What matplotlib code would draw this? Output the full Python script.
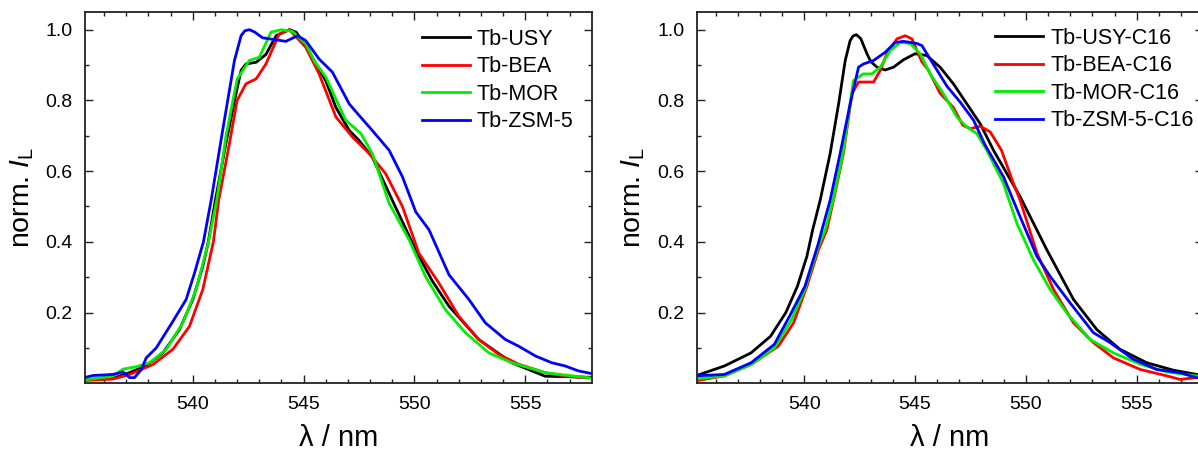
import numpy as np
import matplotlib
matplotlib.use("Agg")
import matplotlib.pyplot as plt

plt.rcParams['font.family'] = ['Liberation Sans', 'DejaVu Sans']
plt.rcParams['mathtext.fontset'] = 'custom'
plt.rcParams['mathtext.rm'] = 'Liberation Sans'
plt.rcParams['mathtext.it'] = 'Liberation Sans:italic'

# ---- left panel: Tb-zeolites (wavelength nm, normalised intensity) ----
usy_x = [535.1, 536.4, 537.15, 537.9, 538.65, 539.4, 540.0, 540.45, 540.7, 541.02, 541.5, 541.95, 542.18,
         542.4, 542.86, 543.3, 543.76, 544.36, 544.66, 545.1, 545.56, 546.0, 546.46, 547.06, 547.5, 548.1,
         549.0, 550.06, 550.8, 551.56, 552.9, 554.4, 555.9, 557.95]
usy_y = [0.01, 0.014, 0.03, 0.05, 0.086, 0.152, 0.237, 0.33, 0.40, 0.518, 0.68, 0.819, 0.885,
         0.903, 0.908, 0.93, 0.983, 1.0, 0.993, 0.955, 0.903, 0.856, 0.78, 0.715, 0.687, 0.64,
         0.518, 0.377, 0.29, 0.218, 0.124, 0.058, 0.02, 0.017]

bea_x = [535.1, 536.4, 537.15, 538.2, 539.1, 539.85, 540.45, 540.93, 541.17, 541.6, 542.0, 542.4, 542.86,
         543.3, 543.9, 544.36, 545.1, 545.7, 546.46, 547.2, 547.96, 548.7, 549.46, 550.2, 551.1, 552.0,
         552.9, 553.8, 554.7, 555.9, 556.8, 557.95]
bea_y = [0.008, 0.012, 0.025, 0.053, 0.096, 0.161, 0.265, 0.40, 0.518, 0.66, 0.80, 0.847, 0.861,
         0.903, 0.988, 1.0, 0.95, 0.875, 0.753, 0.697, 0.65, 0.593, 0.5, 0.368, 0.284, 0.19,
         0.124, 0.082, 0.054, 0.03, 0.02, 0.015]

mor_x = [535.1, 536.4, 536.85, 537.45, 538.05, 538.8, 539.55, 540.15, 540.71, 541.08, 541.5, 542.0, 542.55,
         543.0, 543.53, 544.0, 544.5, 545.1, 545.5, 546.0, 546.9, 547.59, 548.1, 548.86, 549.76, 550.5,
         551.4, 552.3, 553.36, 554.4, 555.9, 557.95]
mor_y = [0.01, 0.02, 0.04, 0.047, 0.058, 0.096, 0.171, 0.265, 0.40, 0.518, 0.70, 0.86, 0.913,
         0.922, 0.993, 1.0, 0.995, 0.96, 0.91, 0.866, 0.744, 0.706, 0.65, 0.509, 0.406, 0.302,
         0.208, 0.143, 0.086, 0.058, 0.03, 0.015]

zsm_x = [535.1, 535.5, 536.4, 536.85, 537.15, 537.37, 537.68, 537.9, 538.35, 539.1, 539.7, 540.08, 540.48,
         540.83, 541.35, 541.88, 542.18, 542.35, 542.56, 542.8, 543.15, 544.2, 544.73, 545.1, 545.7, 546.3,
         547.06, 547.5, 548.1, 548.86, 549.46, 550.06, 550.66, 551.56, 552.46, 553.2, 554.1, 554.7, 555.47,
         556.2, 556.8, 557.4, 557.95]
zsm_y = [0.016, 0.022, 0.025, 0.032, 0.016, 0.016, 0.039, 0.072, 0.1, 0.175, 0.237, 0.312, 0.40,
         0.518, 0.716, 0.913, 0.983, 0.997, 1.0, 0.993, 0.977, 0.967, 0.983, 0.969, 0.917, 0.88,
         0.79, 0.758, 0.715, 0.659, 0.584, 0.485, 0.434, 0.307, 0.237, 0.171, 0.124, 0.105, 0.077,
         0.058, 0.049, 0.035, 0.028]

# ---- right panel: C16 samples ----
usy16_x = [535.1, 536.4, 537.6, 538.48, 539.17, 539.69, 540.12, 540.38, 540.72, 541.17, 541.55, 541.85, 542.07,
           542.2, 542.35, 542.55, 542.83, 543.0, 543.28, 543.65, 544.03, 544.48, 545.0, 545.53, 546.13, 546.73,
           547.34, 547.94, 548.54, 549.74, 550.95, 552.15, 553.2, 554.25, 555.46, 556.66, 557.71]
usy16_y = [0.021, 0.049, 0.086, 0.133, 0.2, 0.274, 0.359, 0.434, 0.518, 0.65, 0.79, 0.913, 0.969,
           0.982, 0.986, 0.975, 0.932, 0.91, 0.894, 0.886, 0.894, 0.915, 0.932, 0.927, 0.894, 0.847,
           0.79, 0.734, 0.659, 0.528, 0.377, 0.237, 0.152, 0.096, 0.058, 0.037, 0.025]

bea16_x = [535.1, 536.4, 537.6, 538.83, 539.52, 540.12, 540.64, 541.02, 541.32, 541.77, 542.15, 542.45, 542.83,
           543.13, 543.43, 543.73, 544.18, 544.56, 544.86, 545.3, 545.61, 546.13, 546.73, 547.15, 547.49,
           547.94, 548.39, 548.9, 549.44, 549.74, 550.5, 551.25, 552.15, 553.05, 553.95, 555.16, 556.36,
           556.96, 557.7]
bea16_y = [0.007, 0.021, 0.053, 0.105, 0.171, 0.274, 0.377, 0.434, 0.518, 0.65, 0.819, 0.852, 0.852,
           0.852, 0.885, 0.932, 0.974, 0.983, 0.974, 0.91, 0.885, 0.82, 0.78, 0.73, 0.72,
           0.727, 0.711, 0.659, 0.565, 0.518, 0.368, 0.265, 0.171, 0.115, 0.072, 0.039, 0.021,
           0.011, 0.016]

mor16_x = [535.1, 536.4, 537.6, 538.65, 539.43, 540.03, 540.64, 540.95, 541.3, 541.75, 542.22, 542.67, 543.05,
           543.43, 543.88, 544.33, 544.78, 545.23, 545.68, 546.28, 546.89, 547.34, 547.79, 548.24, 548.99,
           549.59, 550.34, 551.1, 551.85, 552.9, 553.95, 555.16, 556.36, 557.71]
mor16_y = [0.012, 0.021, 0.053, 0.1, 0.18, 0.265, 0.387, 0.434, 0.518, 0.65, 0.856, 0.875, 0.875,
           0.894, 0.941, 0.964, 0.961, 0.932, 0.875, 0.819, 0.753, 0.725, 0.706, 0.659, 0.565,
           0.453, 0.349, 0.265, 0.199, 0.124, 0.086, 0.054, 0.032, 0.021]

zsm16_x = [535.1, 536.4, 537.6, 538.65, 539.34, 540.03, 540.64, 540.8, 541.17, 541.62, 542.07, 542.45, 542.67,
           543.13, 543.65, 544.1, 544.48, 545.08, 545.31, 545.75, 546.44, 547.04, 547.64, 548.15, 548.99,
           549.74, 550.5, 551.1, 552.0, 553.05, 553.8, 554.85, 555.9, 556.96, 557.7]
zsm16_y = [0.021, 0.025, 0.058, 0.11, 0.19, 0.274, 0.396, 0.434, 0.518, 0.65, 0.79, 0.894, 0.903,
           0.913, 0.936, 0.964, 0.967, 0.961, 0.955, 0.91, 0.84, 0.795, 0.744, 0.675, 0.584,
           0.471, 0.359, 0.302, 0.227, 0.143, 0.115, 0.068, 0.039, 0.03, 0.016]

left_series = [(usy_x, usy_y, 'Tb-USY'), (bea_x, bea_y, 'Tb-BEA'),
               (mor_x, mor_y, 'Tb-MOR'), (zsm_x, zsm_y, 'Tb-ZSM-5')]
right_series = [(usy16_x, usy16_y, 'Tb-USY-C16'), (bea16_x, bea16_y, 'Tb-BEA-C16'),
                (mor16_x, mor16_y, 'Tb-MOR-C16'), (zsm16_x, zsm16_y, 'Tb-ZSM-5-C16')]
colors = ['#000000', '#ff0000', '#00ee00', '#0000ff']

fig = plt.figure(figsize=(11.98, 4.57), dpi=100)
ax_l = fig.add_axes([0.0712, 0.1613, 0.4227, 0.8124])
ax_r = fig.add_axes([0.5816, 0.1613, 0.4227, 0.8124])

# legend anchor (upper-left corner of the entries, axes fraction)
legend_anchor = {ax_l: (0.664, 0.955), ax_r: (0.589, 0.957)}

for ax, series in [(ax_l, left_series), (ax_r, right_series)]:
    for (x, y, lab), c in zip(series, colors):
        ax.plot(x, y, color=c, lw=2.0, label=lab, solid_joinstyle='round')
    ax.set_xlim(535.15, 558)
    ax.set_ylim(0.0, 1.05)
    ax.set_xticks([540, 545, 550, 555])
    ax.set_xticks(np.arange(536, 558, 1), minor=True)
    ax.set_yticks([0.2, 0.4, 0.6, 0.8, 1.0])
    ax.set_yticks([0.1, 0.3, 0.5, 0.7, 0.9], minor=True)
    ax.set_yticklabels(['0.2', '0.4', '0.6', '0.8', '1.0'])
    ax.tick_params(which='both', direction='in', top=True, right=True, width=1.0, color='#222222')
    ax.tick_params(which='major', length=5.5, labelsize=14, pad=9)
    ax.tick_params(which='minor', length=3)
    for sp in ax.spines.values():
        sp.set_linewidth(1.3)
        sp.set_color('#222222')
    ax.set_xlabel('λ / nm', fontsize=21, labelpad=8)
    ax.set_ylabel('norm. $\\mathit{I}_\\mathrm{L}$', fontsize=20.5, labelpad=7)
    ax.legend(loc='upper left', bbox_to_anchor=legend_anchor[ax], frameon=False, fontsize=15.5,
              handlelength=2.23, handletextpad=0.33, labelspacing=0.3, borderaxespad=0, borderpad=0)

fig.savefig('out.png', dpi=100)
